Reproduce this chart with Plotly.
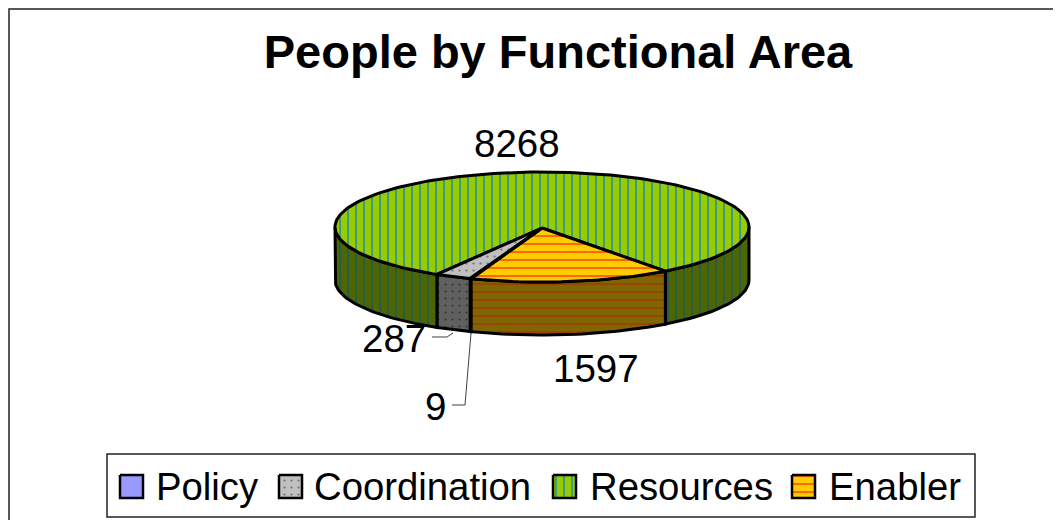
import numpy as np
import plotly.graph_objects as go

# Data
categories = ["Policy", "Coordination", "Resources", "Enabler"]
values = [9, 287, 8268, 1597]

# Styles
top_bg = ["#9999FF", "#C0C0C0", "#99CC00", "#FFCC00"]
top_fg = ["#9999FF", "#707070", "#3C9C80", "#FF6600"]
side_bg = ["#4D4D80", "#606060", "#4D6600", "#806600"]
side_fg = ["#4D4D80", "#383838", "#2A5A48", "#994400"]
shapes_pat = ["", ".", "|", "-"]
pat_size = [8, 7, 8, 8]
pat_sol = [0.1, 0.08, 0.25, 0.25]

# Projection of the pie, in page pixels
CX, CY, RX, RY, DEPTH = 542, 227, 207, 55, 53
PIVOT_Y = 228
START_DEG = 110
LINE = dict(color="black", width=3)
FONT = "Liberation Sans"
# The page body has an 8 px margin, so the axes run in page pixels from 8
PAGE_W, PAGE_H, BODY = 1061, 520, 8

fig = go.Figure()
total = sum(values)
edges = START_DEG + np.concatenate([[0], np.cumsum(values)]) * 360 / total
ranges = list(zip(edges[:-1], edges[1:]))


def rim(a0, a1):
    n = max(2, int(abs(a1 - a0) / 1.5) + 2)
    t = np.radians(np.linspace(a0, a1, n))
    return CX + RX * np.cos(t), CY + RY * np.sin(t)


def fill_style(i, side=False):
    bg = (side_bg if side else top_bg)[i]
    if not shapes_pat[i]:
        return dict(fillcolor=bg)
    return dict(fillcolor=bg, fillpattern=dict(
        shape=shapes_pat[i],
        bgcolor=bg,
        fgcolor=(side_fg if side else top_fg)[i],
        size=pat_size[i],
        solidity=pat_sol[i],
        fillmode="replace",
    ))


# Side walls: only the front half (0..180 deg, modulo 360) is visible
for i, (a0, a1) in enumerate(ranges):
    for k in (-360, 0, 360):
        lo, hi = max(a0 + k, 0), min(a1 + k, 180)
        if hi <= lo:
            continue
        x, y = rim(lo, hi)
        fig.add_trace(go.Scatter(
            x=np.concatenate([x, x[::-1], x[:1]]),
            y=np.concatenate([y, y[::-1] + DEPTH, y[:1]]),
            mode="lines", line=LINE, fill="toself", **fill_style(i, True),
            showlegend=False, hoverinfo="skip",
        ))

# Top faces
for i in [2, 3, 1, 0]:
    a0, a1 = ranges[i]
    x, y = rim(a0, a1)
    fig.add_trace(go.Scatter(
        x=np.concatenate([[CX], x, [CX]]),
        y=np.concatenate([[PIVOT_Y], y, [PIVOT_Y]]),
        mode="lines", line=LINE, fill="toself", **fill_style(i),
        name=categories[i], showlegend=False, hoverinfo="skip",
    ))

# Leader lines
for lx, ly in [([432, 447, 453], [337, 337, 333]), ([452, 465, 471], [405, 405, 333])]:
    fig.add_trace(go.Scatter(x=lx, y=ly, mode="lines", line=dict(color="#404040", width=1),
                             showlegend=False, hoverinfo="skip"))

label_xy = [(435, 406), (394, 338), (517, 143), (596, 368)]
annotations = [
    dict(x=px, y=py, text=str(v), showarrow=False, xref="x", yref="y",
         font=dict(family=FONT, size=38.5, color="black"))
    for v, (px, py) in zip(values, label_xy)
]

# Legend built by hand: plotly's own swatches cannot be large patterned squares
swatch_x = [120, 279, 553, 792]
text_x = [154, 312, 588, 827]
SW, SW_Y0, LEG_YC = 23, 475, 486
for i, (sx, tx) in enumerate(zip(swatch_x, text_x)):
    fig.add_trace(go.Scatter(
        x=[sx, sx + SW, sx + SW, sx, sx],
        y=[SW_Y0, SW_Y0, SW_Y0 + SW, SW_Y0 + SW, SW_Y0],
        mode="lines", line=dict(color="black", width=2.5), fill="toself",
        **fill_style(i), name=categories[i], showlegend=False, hoverinfo="skip",
    ))
    annotations.append(dict(x=tx, y=LEG_YC, text=categories[i], showarrow=False, xref="x", yref="y",
                            xanchor="left", font=dict(family=FONT, size=38.3, color="black")))

fig.update_layout(
    width=PAGE_W - BODY, height=PAGE_H - BODY, margin=dict(l=0, r=0, t=0, b=0),
    paper_bgcolor="white", plot_bgcolor="white", showlegend=False,
    xaxis=dict(range=[BODY, PAGE_W], visible=False, fixedrange=True),
    yaxis=dict(range=[PAGE_H, BODY], visible=False, fixedrange=True),
    title=dict(text="<b>People by Functional Area</b>", x=(558 - BODY) / (PAGE_W - BODY), xanchor="center",
               y=1 - (52 - BODY) / (PAGE_H - BODY), yanchor="middle",
               font=dict(family=FONT, size=47, color="black")),
    annotations=annotations,
    shapes=[
        dict(type="rect", xref="x", yref="y", x0=9, x1=PAGE_W + 20, y0=9, y1=PAGE_H + 20,
             line=dict(color="#222222", width=1.5), fillcolor="rgba(0,0,0,0)", layer="below"),
        dict(type="rect", xref="x", yref="y", x0=107, x1=975, y0=454, y1=517,
             line=dict(color="#222222", width=1.5), fillcolor="white", layer="below"),
    ],
)
fig.write_html("out.html", config={"displayModeBar": False})
